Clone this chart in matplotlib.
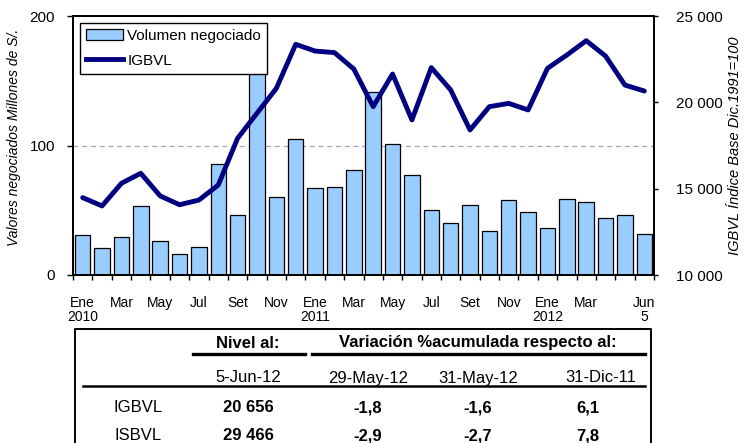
import numpy as np
import matplotlib
matplotlib.use("Agg")
import matplotlib.pyplot as plt
from matplotlib.patches import Patch
from matplotlib.lines import Line2D

plt.rcParams['font.family'] = ['Liberation Sans', 'DejaVu Sans']

# Datos mensuales Ene 2010 - Jun 2012
volumen = [31, 21, 29, 53, 26, 16, 22, 86, 46, 175,
           60, 105, 67, 68, 81, 141, 101, 77, 50, 40,
           54, 34, 58, 49, 36, 59, 56, 44, 46, 32]
igbvl = [14480, 14000, 15310, 15890, 14580, 14070, 14340, 15210, 17920, 19370,
         20810, 23360, 22970, 22880, 21930, 19750, 21640, 18980, 22010, 20720,
         18400, 19750, 19940, 19560, 21970, 22740, 23570, 22680, 21000, 20656]
etiquetas = ['Ene\n2010', 'Mar', 'May', 'Jul', 'Set', 'Nov',
             'Ene\n2011', 'Mar', 'May', 'Jul', 'Set', 'Nov',
             'Ene\n2012', 'Mar', 'Jun\n5']
pos_etiquetas = [0, 2, 4, 6, 8, 10, 12, 14, 16, 18, 20, 22, 24, 26, 29]

# Tabla
tab_cols = ['5-Jun-12', '29-May-12', '31-May-12', '31-Dic-11']
tab_filas = ['IGBVL', 'ISBVL']
tab_valores = [['20 656', '-1,8', '-1,6', '6,1'],
               ['29 466', '-2,9', '-2,7', '7,8']]

W, H = 755, 443
fig = plt.figure(figsize=(W / 100, H / 100), dpi=100)
ax = fig.add_axes([73 / W, 1 - 275 / H, 581 / W, 259 / H])
ax2 = ax.twinx()

x = np.arange(len(volumen))
ax.bar(x, volumen, width=0.8, color='#99CCFF', edgecolor='black', linewidth=0.9, zorder=2)
ax2.plot(x, igbvl, color='#000080', linewidth=3.5, solid_capstyle='round', zorder=3)

ax.set_xlim(-0.5, len(volumen) - 0.5)
ax.set_ylim(0, 200)
ax.set_yticks([0, 100, 200])
ax.set_yticklabels(['0', '100', '200'], fontsize=11)
ax.tick_params(axis='y', direction='out', length=4, width=1, pad=9)
ax.yaxis.grid(True, linestyle=(0, (4, 3)), color='#A8A8A8', linewidth=0.9)
ax.set_axisbelow(True)

ax.set_xticks(np.arange(-0.5, len(volumen), 1))
ax.set_xticklabels([])
ax.tick_params(axis='x', which='major', direction='out', length=3.5, width=1)
ax.set_xticks(pos_etiquetas, minor=True)
ax.set_xticklabels(etiquetas, minor=True, fontsize=10, linespacing=1.05)
ax.tick_params(axis='x', which='minor', length=0, pad=15)

ax2.set_ylim(10000, 25000)
ax2.set_yticks([10000, 15000, 20000, 25000])
ax2.set_yticklabels(['10 000', '15 000', '20 000', '25 000'], fontsize=11)
ax2.tick_params(axis='y', direction='out', length=3, width=1, pad=13)

for a in (ax, ax2):
    for s in a.spines.values():
        s.set_linewidth(1.3)
        s.set_color('black')

ax.set_ylabel('Valores negociados Millones de S/.', fontsize=10, style='italic')
ax.yaxis.set_label_coords(-0.09, 0.53)
ax2.set_ylabel('IGBVL Índice Base Dic.1991=100', fontsize=10.5, style='italic')
ax2.yaxis.set_label_coords(1.128, 0.5)

handles = [Patch(facecolor='#99CCFF', edgecolor='black', linewidth=0.9),
           Line2D([0], [0], color='#000080', linewidth=3.5)]
leg = ax2.legend(handles, ['Volumen negociado', 'IGBVL'], loc='upper left',
                 bbox_to_anchor=(0.012, 0.973), borderaxespad=0, fontsize=11,
                 fancybox=False, framealpha=1, edgecolor='black',
                 handlelength=2.4, handletextpad=0.3, labelspacing=0.7,
                 borderpad=0.4)
leg.get_frame().set_linewidth(1.0)
leg.set_zorder(10)

# Tabla en coordenadas de pixel
tx = fig.add_axes([0, 0, 1, 1], zorder=-1)
tx.set_xlim(0, W)
tx.set_ylim(H, 0)
tx.axis('off')

tx.plot([75, 75, 651, 651], [H + 5, 329, 329, H + 5], color='black', linewidth=1.4)
tx.plot([193, 305], [354, 354], color='black', linewidth=2.4)
tx.plot([312, 645], [354, 354], color='black', linewidth=2.4)
tx.plot([83, 645], [386, 386], color='black', linewidth=1.8)

fs = 12
tx.text(248, 343, 'Nivel al:', ha='center', va='center', fontsize=fs, fontweight='bold')
tx.text(478, 343, 'Variación %acumulada respecto al:', ha='center', va='center',
        fontsize=fs, fontweight='bold')

col_x = [248, 368, 478, 601]
val_x = [248, 368, 478, 588]
for cx, c in zip(col_x, tab_cols):
    tx.text(cx, 378, c, ha='center', va='center', fontsize=fs)

for fy, fila, vals in zip([408, 436], tab_filas, tab_valores):
    tx.text(138, fy, fila, ha='center', va='center', fontsize=fs)
    for vx, v in zip(val_x, vals):
        tx.text(vx, fy, v, ha='center', va='center', fontsize=fs, fontweight='bold')

fig.savefig('out.png', dpi=100)
